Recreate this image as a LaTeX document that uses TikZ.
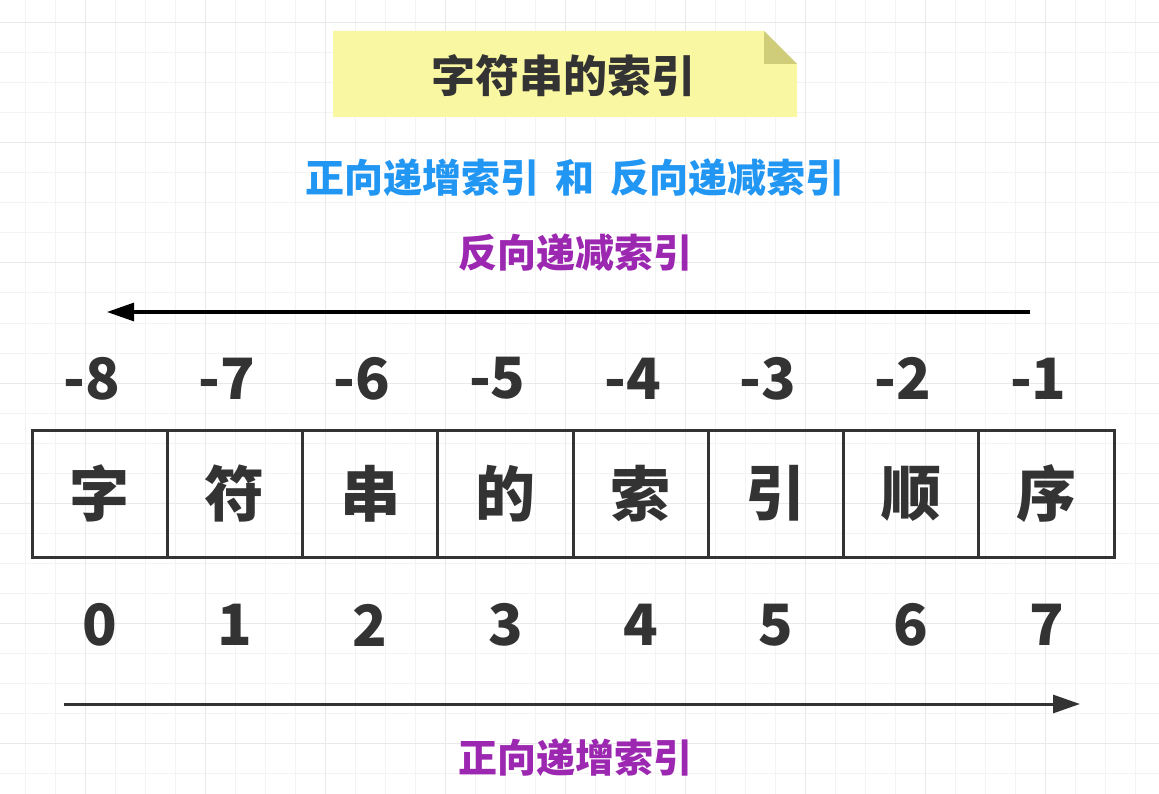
\documentclass[tikz,border=0pt]{standalone}
\usepackage{fontspec}
\setmainfont{Noto Sans CJK SC}
\usetikzlibrary{arrows.meta,positioning}
\definecolor{inkgrey}{HTML}{333333}
\definecolor{noteyellow}{HTML}{FAF7A2}
\definecolor{notefold}{HTML}{CFCC7A}
\definecolor{headblue}{HTML}{2196F3}
\definecolor{labelpurple}{HTML}{9C27B0}
\definecolor{gridminor}{HTML}{F3F3F3}
\definecolor{gridmajor}{HTML}{E9E9E9}
\tikzset{
	cellbox/.style={draw=inkgrey, line width=3pt, minimum width=135.25pt, minimum height=127pt, inner sep=0pt, text=inkgrey, font=\fontsize{60}{60}\selectfont\bfseries},
	idxnum/.style={text=inkgrey, inner sep=0pt, font=\fontsize{57}{57}\selectfont\bfseries},
	idxlabel/.style={text=labelpurple, inner sep=0pt, font=\fontsize{39}{39}\selectfont\bfseries},
	idxarrow/.style={line width=3pt, -{Triangle[length=27pt,width=18pt]}},
}

\begin{document}
\begin{tikzpicture}[x=1pt, y=-1pt]
		%%%%% START %%%%%
		\useasboundingbox[fill=white] (0, 0) rectangle (1159, 794);
		
		\foreach \gx in {25,55,...,1159} \draw[gridminor, line width=1pt] (\gx, 0) -- (\gx, 794);
		\foreach \gy in {23,53,...,794} \draw[gridminor, line width=1pt] (0, \gy) -- (1159, \gy);
		\foreach \gx in {85,205,...,1159} \draw[gridmajor, line width=1pt] (\gx, 0) -- (\gx, 794);
		\foreach \gy in {23,143,...,794} \draw[gridmajor, line width=1pt] (0, \gy) -- (1159, \gy);
		
		\fill[noteyellow] (333, 31) -- (764, 31) -- (797, 64) -- (797, 117) -- (333, 117) -- cycle;
		\fill[notefold] (764, 31) -- (764, 64) -- (797, 64) -- cycle;
		\node[text=inkgrey, inner sep=0pt, font=\fontsize{44}{44}\selectfont\bfseries] (title) at (563, 76) {字符串的索引};
		
		\node[text=headblue, inner sep=0pt, font=\fontsize{39}{39}\selectfont\bfseries] (subtitle) at (575, 178) {正向递增索引\hspace{0.42em}和\hspace{0.42em}反向递减索引};
		
		\node[idxlabel] (backlabel) at (575, 253) {反向递减索引};
		\coordinate (backstart) at (1030, 312);
		\coordinate (backend) at (107, 312);
		\draw[idxarrow, black] (backstart) -- (backend);
		
		\foreach \ch [count=\i from 0] in {字,符,串,的,索,引,顺,序} {
			\pgfmathtruncatemacro\backidx{\i-8}
			\node[cellbox] (cell\i) at ({32+135.25*(\i+0.5)}, 493.5) {\ch};
			\node[idxnum] (neg\i) at ({32+135.25*(\i+0.5)-8}, 378.5) {\backidx};
			\node[idxnum] (pos\i) at ({32+135.25*(\i+0.5)}, 625) {\i};
		}
		
		\coordinate (forestart) at (64, 704);
		\coordinate (foreend) at (1080, 704);
		\draw[idxarrow, inkgrey] (forestart) -- (foreend);
		\node[idxlabel] (forelabel) at (575, 758) {正向递增索引};
		
		%%%%% END %%%%%
	\end{tikzpicture}
\end{document}
